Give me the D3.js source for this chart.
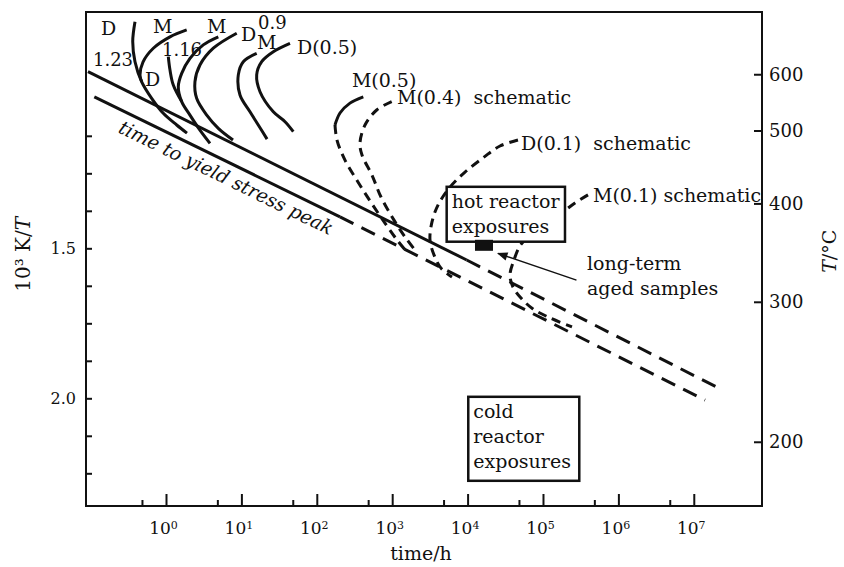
<!DOCTYPE html>
<html>
<head>
  <meta charset="utf-8">
  <title>Time to yield stress peak and ordering curves</title>
  <script src="https://cdn.jsdelivr.net/npm/d3@7"></script>
  <style>
    body { margin: 0; background: #fff; }
    svg { font-family: "DejaVu Serif", serif; }
    text { fill: #111; }
  </style>
</head>
<body>
<script>
  // x = time in hours, y = 10^3 K / T
  const timeTicks = [1, 10, 100, 1e3, 1e4, 1e5, 1e6, 1e7];
  const timeMinorTicks = [0.48, 4.8, 48, 480, 4800, 48000, 480000, 4800000];
  const invTTicks = [1.125, 1.25, 1.375, 1.5, 1.625, 1.75, 1.875, 2.0, 2.125, 2.25];
  const invTLabelled = [1.5, 2.0];
  const celsiusTicks = [200, 300, 400, 500, 600];

  // straight lines (solid part, then dashed extrapolation)
  const upperSolid = [[0.0923, 0.911], [9730, 1.539]];
  const upperDashed = [[9730, 1.539], [2.34e7, 1.971]];
  const peakSolid = [[0.112, 0.995], [203, 1.395]];
  const peakDashed = [[203, 1.395], [1.41e7, 2.006]];

  // measured C-curves
  const curveD123 = [[0.388, 0.745], [0.362, 0.811], [0.388, 0.878], [0.476, 0.945], [0.646, 1.0], [0.921, 1.05], [1.387, 1.089], [1.898, 1.116]];
  const curveM123 = [[1.881, 0.772], [1.13, 0.795], [0.679, 0.833], [0.495, 0.879], [0.452, 0.922], [0.476, 0.945]];
  const curveD116 = [[1.073, 0.861], [1.13, 0.906], [1.25, 0.956], [1.615, 1.011]];
  const curveM116 = [[4.94, 0.795], [3.12, 0.822], [2.08, 0.867], [1.615, 0.917], [1.456, 0.961], [1.615, 1.011], [2.08, 1.056], [2.82, 1.106], [3.83, 1.15]];
  const curveD09 = [[8.67, 0.783], [4.24, 0.833], [2.82, 0.889], [2.42, 0.945], [2.55, 1.0], [3.47, 1.056], [4.94, 1.1], [7.74, 1.139]];
  const curveM09 = [[15.95, 0.85], [10.6, 0.878], [9.1, 0.922], [9.58, 0.989], [13.0, 1.045], [16.75, 1.089], [21.9, 1.136]];
  const curveD05 = [[44.1, 0.817], [26.5, 0.845], [18.6, 0.878], [15.95, 0.922], [17.65, 0.978], [26.5, 1.045], [37.9, 1.078], [48.8, 1.111]];
  const curveM05 = [[413.8, 0.995], [275.6, 1.016], [203.1, 1.049], [174.3, 1.089]];

  // schematic curves (dashed)
  const schemM05 = [[174.3, 1.089], [185.3, 1.139], [236.6, 1.206], [351.8, 1.279], [539.5, 1.352], [802.7, 1.416], [1158, 1.472], [1560, 1.512]];
  const schemM04 = [[985, 1.011], [623, 1.039], [435.8, 1.089], [374, 1.149], [397.8, 1.189], [539.7, 1.256], [710.3, 1.329], [1056.6, 1.406], [1478.6, 1.462], [2006, 1.506]];
  const schemD01 = [[46600, 1.139], [26900, 1.159], [16500, 1.196], [9240, 1.246], [5843, 1.296], [4050, 1.356], [3373, 1.412], [3172, 1.472], [3584, 1.522], [4439, 1.566], [6210, 1.596]];
  const schemM01 = [[395300, 1.322], [265700, 1.349], [184200, 1.379], [106300, 1.426], [63240, 1.463], [49550, 1.492], [41250, 1.539], [36500, 1.589], [40000, 1.629], [51080, 1.666], [73700, 1.702], [123800, 1.732], [242400, 1.762]];

  // annotation text: [label, time, 10^3 K/T]
  const curveLabels = [
    ["D", 0.137, 0.789], ["M", 0.673, 0.782], ["1.23", 0.1076, 0.892],
    ["D", 0.527, 0.959], ["1.16", 0.885, 0.859], ["M", 3.5, 0.782],
    ["D", 9.88, 0.809], ["0.9", 16.6, 0.769], ["M", 16.1, 0.836],
    ["D(0.5)", 54.6, 0.852], ["M(0.5)", 292, 0.962],
    ["M(0.4)  schematic", 1158, 1.02], ["D(0.1)  schematic", 51100, 1.172],
    ["M(0.1) schematic", 460000, 1.346],
    ["long-term", 383500, 1.572], ["aged samples", 383500, 1.656]
  ];
  const peakLabel = ["time to yield stress peak", 0.225, 1.112];
  const hotBox = { t: [5280, 195800], v: [1.295, 1.478], lines: ["hot reactor", "exposures"] };
  const coldBox = { t: [10210, 302900], v: [1.995, 2.275], lines: ["cold", "reactor", "exposures"] };
  const agedSample = [16500, 1.49];
  const agedArrow = [[278000, 1.606], [25300, 1.517]];

  // size
  const margin = { top: 12, right: 82, bottom: 61, left: 86 };
  const w = 844 - margin.left - margin.right;
  const h = 567 - margin.top - margin.bottom;

  const x = d3.scaleLog().domain([0.0869, 8.03e7]).range([0, w]);
  const y = d3.scaleLinear().domain([0.7123, 2.359]).range([0, h]);
  // right axis: same quantity but its own printed scale
  const yC = d3.scaleLinear().domain([0.9813, 2.2827]).range([0, h]);

  const svg = d3.select("body").append("svg")
    .attr("width", 844)
    .attr("height", 567);

  svg.append("defs").append("marker")
    .attr("id", "head")
    .attr("viewBox", "0 0 10 10")
    .attr("refX", 9).attr("refY", 5)
    .attr("markerWidth", 9).attr("markerHeight", 7)
    .attr("orient", "auto")
    .append("path")
    .attr("d", "M0,1 L10,5 L0,9 Z")
    .attr("fill", "#111");

  const g = svg.append("g")
    .attr("transform", "translate(" + margin.left + "," + margin.top + ")");

  // axes
  const bottom = g.append("g")
    .attr("transform", "translate(0," + h + ")")
    .call(d3.axisBottom(x).tickValues(timeTicks).tickSize(-12).tickSizeOuter(0).tickPadding(16).tickFormat(() => "10"));
  bottom.selectAll(".tick text")
    .attr("font-size", 17)
    .attr("dx", "-3")
    .append("tspan")
    .attr("dy", "-0.45em")
    .attr("font-size", 11)
    .text(d => Math.round(Math.log10(d)));
  g.append("g")
    .attr("transform", "translate(0," + h + ")")
    .call(d3.axisBottom(x).tickValues(timeMinorTicks).tickSize(-6).tickSizeOuter(0).tickFormat(""));

  g.append("g")
    .call(d3.axisLeft(y).tickValues(invTTicks).tickSize(-6).tickSizeOuter(0).tickPadding(10)
      .tickFormat(d => invTLabelled.includes(d) ? d3.format(".1f")(d) : ""))
    .selectAll(".tick text").attr("font-size", 16);

  g.append("g")
    .attr("transform", "translate(" + w + ",0)")
    .call(d3.axisRight(yC).tickValues(celsiusTicks.map(c => 1000 / (c + 273.15)))
      .tickSize(-8).tickSizeOuter(0).tickPadding(7)
      .tickFormat((d, i) => celsiusTicks[i]))
    .selectAll(".tick text").attr("font-size", 18);

  g.selectAll(".domain").remove();
  g.selectAll(".tick line").attr("stroke", "#111").attr("stroke-width", 2);
  g.selectAll(".tick text").attr("fill", "#111").attr("font-family", "DejaVu Serif, serif");
  g.selectAll("g").attr("font-family", null);

  g.append("rect")
    .attr("width", w).attr("height", h)
    .attr("fill", "none").attr("stroke", "#111").attr("stroke-width", 2);

  // axis titles
  svg.append("text")
    .attr("transform", "translate(30," + (margin.top + y(1.52)) + ") rotate(-90)")
    .attr("text-anchor", "middle")
    .attr("font-size", 20)
    .style("white-space", "pre")
    .html('10³ K/<tspan font-style="italic">T</tspan>');

  svg.append("text")
    .attr("transform", "translate(836," + (margin.top + y(1.51)) + ") rotate(-90)")
    .attr("text-anchor", "middle")
    .attr("font-size", 19)
    .html('<tspan font-style="italic">T</tspan>/°C');

  svg.append("text")
    .attr("x", margin.left + w / 2 - 3)
    .attr("y", 560)
    .attr("text-anchor", "middle")
    .attr("font-size", 19)
    .text("time/h");

  // lines
  const line = d3.line().x(d => x(d[0])).y(d => y(d[1]));
  const smooth = d3.line().x(d => x(d[0])).y(d => y(d[1])).curve(d3.curveCatmullRom.alpha(0.5));

  function draw(data, gen, dash) {
    g.append("path")
      .datum(data)
      .attr("d", gen)
      .attr("fill", "none")
      .attr("stroke", "#111")
      .attr("stroke-width", 3)
      .attr("stroke-dasharray", dash)
      .attr("stroke-linecap", "butt");
  }

  draw(upperSolid, line, null);
  draw(upperDashed, line, "15,9");
  draw(peakSolid, line, null);
  draw(peakDashed, line, "15,9");

  [curveD123, curveM123, curveD116, curveM116, curveD09, curveM09, curveD05, curveM05]
    .forEach(c => draw(c, smooth, null));
  [schemM05, schemM04, schemD01, schemM01].forEach(c => draw(c, smooth, "9,6"));

  // boxes
  [hotBox, coldBox].forEach(b => {
    const bx = g.append("g")
      .attr("transform", "translate(" + x(b.t[0]) + "," + y(b.v[0]) + ")");
    bx.append("rect")
      .attr("width", x(b.t[1]) - x(b.t[0]))
      .attr("height", y(b.v[1]) - y(b.v[0]))
      .attr("fill", "#fff").attr("stroke", "#111").attr("stroke-width", 2.5);
    bx.selectAll("text")
      .data(b.lines)
      .enter()
      .append("text")
      .attr("x", 5)
      .attr("y", (d, i) => 21 + i * 25)
      .attr("font-size", 19)
      .text(d => d);
  });

  // long-term aged samples
  g.append("rect")
    .attr("x", x(agedSample[0]) - 9)
    .attr("y", y(agedSample[1]) - 5.5)
    .attr("width", 18).attr("height", 11)
    .attr("fill", "#111");

  g.append("line")
    .attr("x1", x(agedArrow[0][0])).attr("y1", y(agedArrow[0][1]))
    .attr("x2", x(agedArrow[1][0])).attr("y2", y(agedArrow[1][1]))
    .attr("stroke", "#111").attr("stroke-width", 1.5)
    .attr("marker-end", "url(#head)");

  // labels
  g.selectAll(".clabel")
    .data(curveLabels)
    .enter()
    .append("text")
    .attr("class", "clabel")
    .attr("x", d => x(d[1]))
    .attr("y", d => y(d[2]))
    .attr("font-size", d => /^[0-9]/.test(d[0]) ? 18 : 19)
    .style("white-space", "pre")
    .text(d => d[0]);

  g.append("text")
    .attr("transform", "translate(" + x(peakLabel[1]) + "," + y(peakLabel[2]) + ") rotate(26)")
    .attr("font-size", 19)
    .attr("font-style", "italic")
    .text(peakLabel[0]);
</script>
</body>
</html>
